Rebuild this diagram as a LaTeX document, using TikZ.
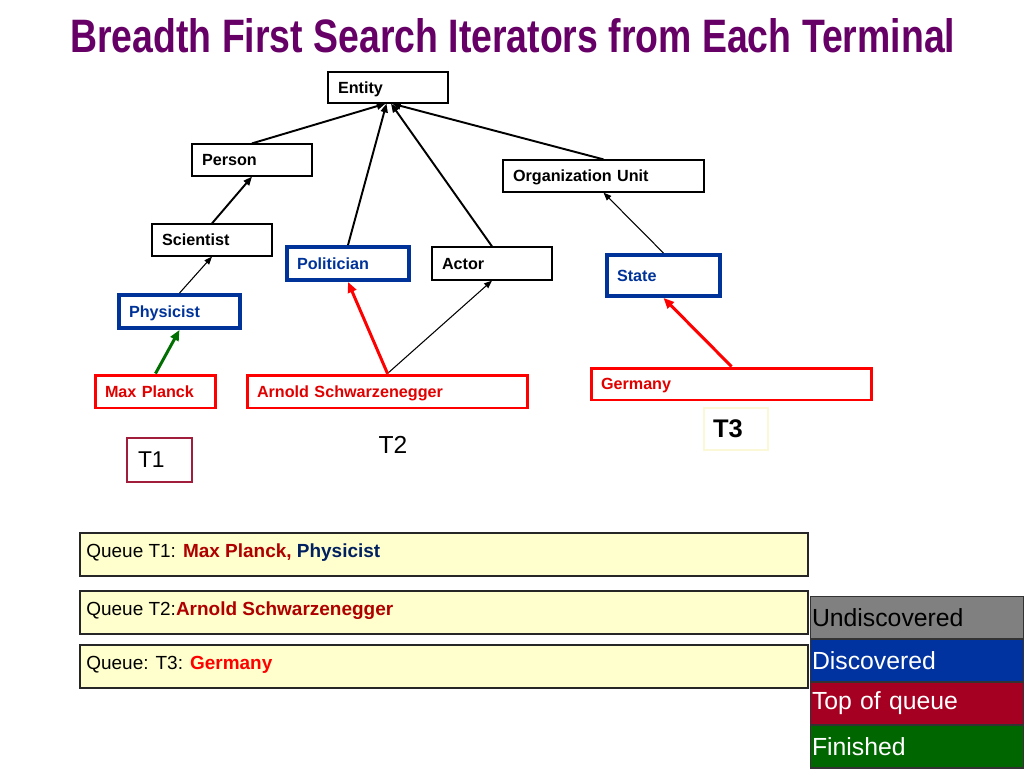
\documentclass[tikz,border=0pt]{standalone}
\usepackage{graphicx}
\usepackage{fontspec}
\setmainfont{Liberation Sans}
\usetikzlibrary{arrows.meta}
\definecolor{ttl}{RGB}{102,0,102}
\definecolor{dblue}{RGB}{0,51,153}
\definecolor{boxred}{RGB}{255,0,0}
\definecolor{txtred}{RGB}{225,0,0}
\definecolor{qred}{RGB}{175,0,0}
\definecolor{qnavy}{RGB}{0,32,96}
\definecolor{qfill}{RGB}{255,255,206}
\definecolor{t1c}{RGB}{160,30,60}
\definecolor{t3c}{RGB}{250,248,215}
\definecolor{fgreen}{RGB}{0,110,0}
\definecolor{lgray}{RGB}{128,128,128}
\definecolor{lblue}{RGB}{0,51,160}
\definecolor{lred}{RGB}{165,0,33}
\definecolor{lgreen}{RGB}{0,102,0}
\begin{document}
\begin{tikzpicture}[x=0.02cm,y=-0.02cm,
  lbl/.style={font=\fontsize{9.2}{11}\selectfont\bfseries, align=left, inner xsep=0.2cm, inner ysep=0pt, text height=6.6pt, text depth=0pt},
  plainbox/.style={lbl, draw=black, line width=0.7pt},
  discbox/.style={lbl, draw=dblue, line width=2.2pt, text=dblue},
  topbox/.style={lbl, draw=boxred, line width=1.7pt, text=txtred},
  thickarr/.style={line width=1.1pt, -{Triangle[length=5pt,width=4pt]}},
  thinarr/.style={line width=0.6pt, -{Triangle[length=4.5pt,width=3.5pt]}},
  colarr/.style={line width=1.7pt, -{Triangle[length=6pt,width=5pt]}},
  qbox/.style={draw=black!85, line width=0.9pt, fill=qfill, minimum width=14.56cm, minimum height=0.86cm, inner sep=0pt},
  qtext/.style={font=\fontsize{10.8}{13}\selectfont, anchor=base west, inner sep=0pt},
  legend/.style={draw=black!80, line width=0.6pt, minimum width=4.28cm, minimum height=0.86cm, text width=4.2cm, inner xsep=0.04cm, inner ysep=0pt, align=left, font=\fontsize{14.1}{16}\selectfont}
]
\useasboundingbox (0,0) rectangle (1024,768);

% title
\node[anchor=base west, inner sep=0pt, text=ttl] (title) at (70,52)
  {\resizebox{17.7cm}{0.68cm}{\bfseries Breadth First Search Iterators from Each Terminal}};

% hierarchy nodes
\node[plainbox, text width=2.0cm, minimum height=0.62cm] (entity) at (388,87.5) {Entity};
\node[plainbox, text width=2.0cm, minimum height=0.64cm] (person) at (252,160) {Person};
\node[plainbox, text width=3.62cm, minimum height=0.64cm] (org) at (603.5,176) {Organization Unit};
\node[plainbox, text width=2.0cm, minimum height=0.64cm] (scientist) at (212,240) {Scientist};
\node[discbox, text width=2.04cm, minimum height=0.66cm] (politician) at (348,263.5) {Politician};
\node[plainbox, text width=2.0cm, minimum height=0.66cm] (actor) at (492,263.5) {Actor};
\node[discbox, text width=1.86cm, minimum height=0.82cm] (state) at (663.5,275.5) {State};
\node[discbox, text width=2.02cm, minimum height=0.66cm] (physicist) at (179.5,311.5) {Physicist};
\node[topbox, text width=2.02cm, minimum height=0.66cm] (planck) at (155.5,391.5) {Max Planck};
\node[topbox, text width=5.22cm, minimum height=0.66cm] (arnold) at (387.5,391.5) {Arnold Schwarzenegger};
\node[topbox, text width=5.22cm, minimum height=0.64cm] (germany) at (731.5,384) {Germany};

% terminal labels
\node[draw=t1c, line width=1.4pt, text width=0.86cm, inner xsep=0.22cm, minimum height=0.88cm, align=left, font=\fontsize{13}{15}\selectfont] (t1) at (159.5,460) {T1};
\node[anchor=base, inner sep=0pt, font=\fontsize{14}{16}\selectfont] (t2) at (393,453) {T2};
\node[draw=t3c, line width=1pt, text width=0.92cm, inner xsep=0.18cm, minimum height=0.84cm, align=left, font=\fontsize{14.5}{16}\selectfont\bfseries] (t3) at (736,429) {T3};

% connectors
\draw[thickarr] (person.north) -- ([xshift=-0.05cm]entity.south);
\draw[thickarr] (politician.north) -- ([xshift=-0.03cm]entity.south);
\draw[thickarr] (actor.north) -- ([xshift=0.06cm]entity.south);
\draw[thickarr] (org.north) -- ([xshift=0.08cm]entity.south);
\draw[thickarr] (scientist.north) -- (person.south);
\draw[thinarr] (physicist.north) -- (scientist.south);
\draw[thinarr] (arnold.north) -- (actor.south);
\draw[thinarr] (state.north) -- (org.south);
\draw[colarr, draw=fgreen, fill=fgreen] (planck.north) -- (physicist.south);
\draw[colarr, draw=boxred, fill=boxred] (arnold.north) -- (politician.south);
\draw[colarr, draw=boxred, fill=boxred] (germany.north) -- (state.south);

% queues
\node[qbox] (q1) at (444,554.5) {};
\node[qtext] (q1t) at (86,557) {Queue T1: \textcolor{qred}{\bfseries Max Planck,} \textcolor{qnavy}{\bfseries Physicist}};
\node[qbox] (q2) at (444,612.5) {};
\node[qtext] (q2t) at (86,615) {Queue T2:\textcolor{qred}{\bfseries Arnold Schwarzenegger}};
\node[qbox] (q3) at (444,666.5) {};
\node[qtext] (q3t) at (86,669) {Queue: T3: \textcolor{boxred}{\bfseries Germany}};

% legend
\node[legend, fill=lgray, text=black] (lund) at (917,618) {Undiscovered};
\node[legend, fill=lblue, text=white] (ldis) at (917,660.5) {Discovered};
\node[legend, fill=lred, text=white] (ltop) at (917,703.5) {Top of queue};
\node[legend, fill=lgreen, text=white] (lfin) at (917,746.5) {Finished};
\end{tikzpicture}
\end{document}
